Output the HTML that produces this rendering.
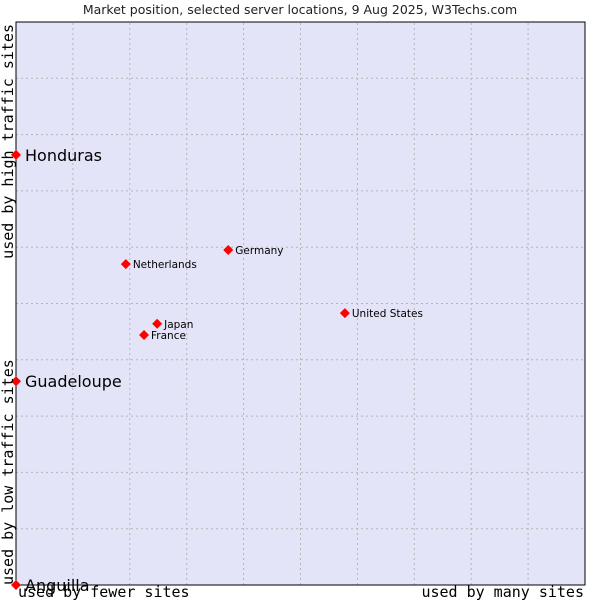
<!DOCTYPE html>
<html><head><meta charset="utf-8"><style>
body{margin:0;background:#fff;width:600px;height:600px;overflow:hidden}
svg{display:block}
</style></head><body>
<svg id="chart" width="600" height="600" xmlns="http://www.w3.org/2000/svg">
<text x="300" y="14" text-anchor="middle" font-family="DejaVu Sans, Liberation Sans, sans-serif" font-size="12.5" fill="#222">Market position, selected server locations, 9 Aug 2025, W3Techs.com</text>
<rect x="16" y="22" width="569" height="563" fill="#e4e4f8"/>
<g id="grid"></g>
<rect x="16" y="22" width="569" height="563" fill="none" stroke="#000" stroke-width="1"/>
<g id="points"></g>
<text x="13" y="585" text-anchor="start" font-family="DejaVu Sans Mono, Liberation Mono, monospace" font-size="15" fill="#000" transform="rotate(-90 13 585)">used by low traffic sites</text>
<text x="13" y="24" text-anchor="end" font-family="DejaVu Sans Mono, Liberation Mono, monospace" font-size="15" fill="#000" transform="rotate(-90 13 24)">used by high traffic sites</text>
<text x="18" y="597" font-family="DejaVu Sans Mono, Liberation Mono, monospace" font-size="15" fill="#000">used by fewer sites</text>
<text x="584" y="597" text-anchor="end" font-family="DejaVu Sans Mono, Liberation Mono, monospace" font-size="15" fill="#000">used by many sites</text>
</svg>
<script>
const names=["Honduras","Guadeloupe","Anguilla","Netherlands","Germany","United States","Japan","France"];
const xVals=[0,0,0,19.3,37.3,57.8,24.8,22.5];
const yVals=[76.4,36.2,0,57,59.5,48.3,46.4,44.4];
const bigLabel=[true,true,true,false,false,false,false,false];
const gridTicks=[10,20,30,40,50,60,70,80,90];
const X0=16,W=569,Y0=585,H=563;
const xs=v=>X0+v/100*W, ys=v=>Y0-v/100*H;
const NS="http://www.w3.org/2000/svg";
const g=document.getElementById('grid');
gridTicks.forEach(t=>{
 const l=document.createElementNS(NS,'line');
 l.setAttribute('x1',xs(t));l.setAttribute('x2',xs(t));l.setAttribute('y1',ys(0));l.setAttribute('y2',ys(100));
 l.setAttribute('stroke','#b4b4b4');l.setAttribute('stroke-dasharray','2,3');
 
 
 g.appendChild(l);
 const m=document.createElementNS(NS,'line');
 m.setAttribute('y1',ys(t));m.setAttribute('y2',ys(t));m.setAttribute('x1',xs(0));m.setAttribute('x2',xs(100));
 m.setAttribute('stroke','#b4b4b4');m.setAttribute('stroke-dasharray','2,3');
 
 
 g.appendChild(m);
});
const p=document.getElementById('points');
names.forEach((n,i)=>{
 const x=xs(xVals[i]),y=ys(yVals[i]);
 const d=document.createElementNS(NS,'polygon');
 d.setAttribute('points',`${x},${y-5} ${x+5},${y} ${x},${y+5} ${x-5},${y}`);
 d.setAttribute('fill','#f00');
 
 
 p.appendChild(d);
 const t=document.createElementNS(NS,'text');
 const big=bigLabel[i];
 t.setAttribute('x',x+(big?9:7));t.setAttribute('y',y+(big?6:4));
 t.setAttribute('font-family','DejaVu Sans, Liberation Sans, sans-serif');
 t.setAttribute('font-size',big?'16':'10.5');t.setAttribute('fill','#000');
 t.textContent=n;
 
 
 p.appendChild(t);
});
</script>
</body></html>
